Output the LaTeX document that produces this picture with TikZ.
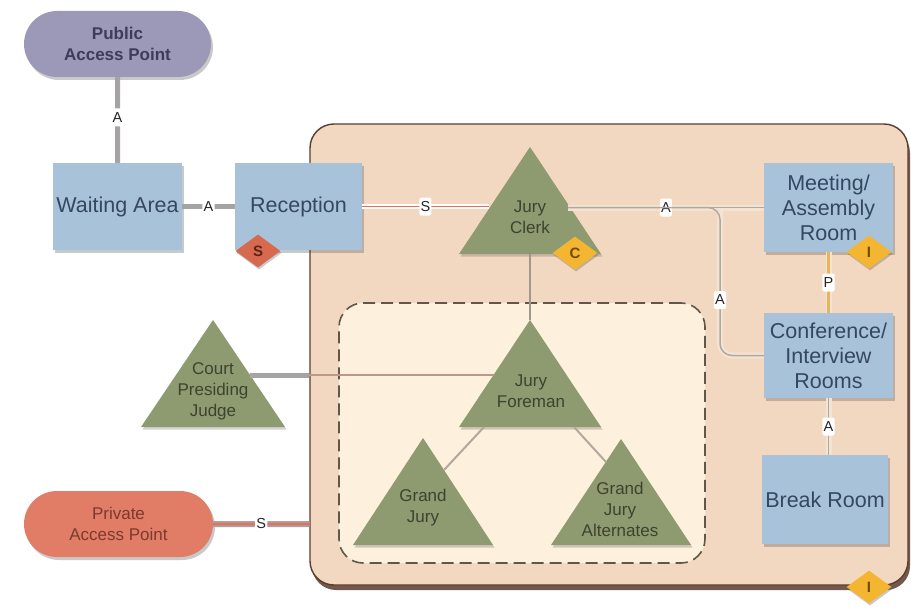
\documentclass[tikz,border=0pt]{standalone}
\usepackage{fontspec}
\setmainfont{Liberation Sans}
\usetikzlibrary{shapes.geometric,shapes.misc,shadows,calc}

\definecolor{pubfill}{HTML}{9B99B7}
\definecolor{pubtext}{HTML}{3E3C5A}
\definecolor{privfill}{HTML}{E17D66}
\definecolor{privtext}{HTML}{7B3A2E}
\definecolor{roomfill}{HTML}{A8C3D9}
\definecolor{roomtext}{HTML}{34485E}
\definecolor{suitefill}{HTML}{F3D8C1}
\definecolor{suiteline}{HTML}{5B3C2E}
\definecolor{juryfill}{HTML}{FDF0DC}
\definecolor{jurydash}{HTML}{5F574A}
\definecolor{trifill}{HTML}{8E9A6F}
\definecolor{tritext}{HTML}{3D4330}
\definecolor{amber}{HTML}{F4B630}
\definecolor{ambertext}{HTML}{6E4C0E}
\definecolor{secfill}{HTML}{D6694E}
\definecolor{sectext}{HTML}{5A2418}
\definecolor{pathgray}{HTML}{A6A3A5}
\definecolor{thingray}{HTML}{B2A89F}
\definecolor{band}{HTML}{F2E3D3}
\definecolor{redline}{HTML}{DA705E}
\definecolor{orangeline}{HTML}{E6B45E}

\newcommand\roomfont{\fontsize{21.5}{25}\selectfont}
\newcommand\trifont{\fontsize{17}{21}\selectfont}
\newcommand\pillfont{\fontsize{17}{20.5}\selectfont}
\newcommand\tagfont{\fontsize{14.5}{15}\selectfont}
\newcommand\badgefont{\fontsize{15}{15}\selectfont\bfseries}

\begin{document}
\begin{tikzpicture}[x=1pt,y=-1pt,
  softshadow/.style={drop shadow={shadow xshift=2pt,shadow yshift=-3pt,opacity=.3,fill=black!70}},
  pill/.style={rounded rectangle,minimum height=66pt,inner sep=2pt,align=center,font=\pillfont,softshadow},
  room/.style={rectangle,fill=roomfill,minimum width=129pt,text=roomtext,align=center,font=\roomfont,inner sep=2pt,softshadow},
  tri/.style={fill=trifill,drop shadow={shadow xshift=1.5pt,shadow yshift=-2.5pt,opacity=.25,fill=black!70}},
  trilabel/.style={align=center,text=tritext,font=\trifont,inner sep=0pt},
  badge/.style={diamond,aspect=1.4,minimum width=45pt,minimum height=33pt,inner sep=0pt,font=\badgefont,
                drop shadow={shadow xshift=1pt,shadow yshift=-2pt,opacity=.3,fill=black!70}},
  tag/.style={fill=white,rounded corners=1.5pt,inner sep=1.2pt,minimum width=12pt,minimum height=18pt,font=\tagfont,text=black!85},
  walkway/.style={draw=pathgray,line width=5pt},
  underband/.style={draw=band,line width=6pt},
  thinlink/.style={draw=thingray,line width=1.5pt},
]
\useasboundingbox (0,0) rectangle (911,610);

% ---- secure suite and grand jury room ----
\node[rectangle,rounded corners=24pt,fill=suitefill,draw=suiteline,line width=1.4pt,
      minimum width=598pt,minimum height=461pt,
      drop shadow={shadow xshift=2pt,shadow yshift=-5pt,opacity=.85,fill=suiteline}] (suite) at (609,354.5) {};
\node[rectangle,rounded corners=24pt,fill=juryfill,draw=jurydash,line width=1.6pt,
      dash pattern=on 12pt off 6pt,minimum width=366pt,minimum height=260pt] (juryroom) at (522,433) {};

% ---- access points ----
\node[pill,fill=pubfill,text=pubtext,minimum width=191pt,font=\pillfont\bfseries] (public) at (117.5,44) {Public\\Access Point};
\node[pill,fill=privfill,text=privtext,minimum width=193pt] (private) at (118.5,524) {Private\\Access Point};

% ---- rooms ----
\node[room,minimum height=87pt] (waiting) at (117.5,206.5) {Waiting Area};
\node[room,minimum height=87pt,minimum width=127pt] (reception) at (298.5,206.5) {Reception};
\node[room,minimum height=89pt] (meeting) at (828.5,207.5) {Meeting/\\Assembly\\Room};
\node[room,minimum height=85pt] (conference) at (828.5,355.5) {Conference/\\Interview\\Rooms};
\node[room,minimum height=89pt,minimum width=126pt] (breakroom) at (825,499.5) {Break Room};

% ---- roles (triangles) ----
\coordinate (jc-top) at (530,147);  \coordinate (jc-bl) at (459,254); \coordinate (jc-br) at (601,254);
\coordinate (jf-top) at (530,320);  \coordinate (jf-bl) at (459,427); \coordinate (jf-br) at (601,427);
\coordinate (cj-top) at (213,320);  \coordinate (cj-bl) at (141,427); \coordinate (cj-br) at (285,427);
\coordinate (gj-top) at (423,438);  \coordinate (gj-bl) at (353,545); \coordinate (gj-br) at (493,545);
\coordinate (ga-top) at (621,439);  \coordinate (ga-bl) at (551,545); \coordinate (ga-br) at (691,545);

\path[tri] (jc-top) -- (jc-bl) -- (jc-br) -- cycle;
\path[tri] (jf-top) -- (jf-bl) -- (jf-br) -- cycle;
\path[tri] (cj-top) -- (cj-bl) -- (cj-br) -- cycle;
\path[tri] (gj-top) -- (gj-bl) -- (gj-br) -- cycle;
\path[tri] (ga-top) -- (ga-bl) -- (ga-br) -- cycle;

\node[trilabel] (clerk) at (530,217) {Jury\\Clerk};
\node[trilabel] (foreman) at (531,391) {Jury\\Foreman};
\node[trilabel] (judge) at (213,391) {Court\\Presiding\\Judge};
\node[trilabel] (grandjury) at (423,508) {Grand\\Jury};
\node[trilabel] (alternates) at (620,509) {Grand\\Jury\\Alternates};

% connection points on the triangle edges
\coordinate (jc-left)  at (488.5,206.5);
\coordinate (jc-right) at (568,207.5);
\coordinate (jc-base)  at (530,254);
\coordinate (cj-right) at (250,375);
\coordinate (jf-left)  at (493.5,375);
\coordinate (jf-baseL) at (484,427);
\coordinate (jf-baseR) at (574,427);
\coordinate (gj-right) at (444,470);
\coordinate (ga-left)  at (606,462);
\coordinate (bend) at (720,207.5);

% ---- connectors ----
\draw[walkway] (public) -- node[tag,pos=.47] (t1) {A} (waiting);
\draw[walkway] (waiting) -- node[tag] (t2) {A} (reception);

\draw[draw=band!90!black!5,line width=5pt] (reception.east) -- (jc-left);
\draw[draw=redline,line width=1.6pt] (reception.east) -- node[tag,pos=.5] (t3) {S} (jc-left);

\draw[underband] (jc-right) -- (meeting.west);
\draw[underband,rounded corners=12pt] (bend) -- (bend |- conference.west) -- (conference.west);
\draw[thinlink] (jc-right) -- node[tag] (t4) {A} (meeting.west);
\draw[thinlink,rounded corners=12pt] (jc-right) -| (bend |- conference.west) -- (conference.west);
\node[tag] (t5) at (720,300) {A};

\draw[underband] (meeting.south) -- (conference.north);
\draw[draw=orangeline,line width=3pt] (meeting.south) -- node[tag] (t6) {P} (conference.north);
\draw[underband] (conference.south) -- (breakroom.north -| conference.south);
\draw[thinlink] (conference.south) -- node[tag] (t7) {A} (breakroom.north -| conference.south);

\draw[draw=thingray!90!black,line width=1.2pt] (jc-base) -- (jf-top);
\draw[draw=thingray!70!redline,line width=1.2pt] (cj-right) -- (jf-left);
\draw[walkway] (cj-right) -- (cj-right -| suite.west);
\draw[draw=thingray,line width=2pt] (jf-baseL) -- (gj-right);
\draw[draw=thingray,line width=2pt] (jf-baseR) -- (ga-left);

\draw[draw=pathgray,line width=6pt] (private) -- (private -| suite.west);
\draw[draw=privfill!90!red,line width=2.5pt] (private) -- node[tag] (t8) {S} (private -| suite.west);

% ---- badges ----
\node[badge,fill=secfill,text=sectext] (sbadge) at (258,251) {S};
\node[badge,fill=amber,text=ambertext] (cbadge) at (575,253) {C};
\node[badge,fill=amber,text=ambertext] (ibadge1) at (869,252) {I};
\node[badge,fill=amber,text=ambertext] (ibadge2) at (869,587) {I};
\end{tikzpicture}
\end{document}
